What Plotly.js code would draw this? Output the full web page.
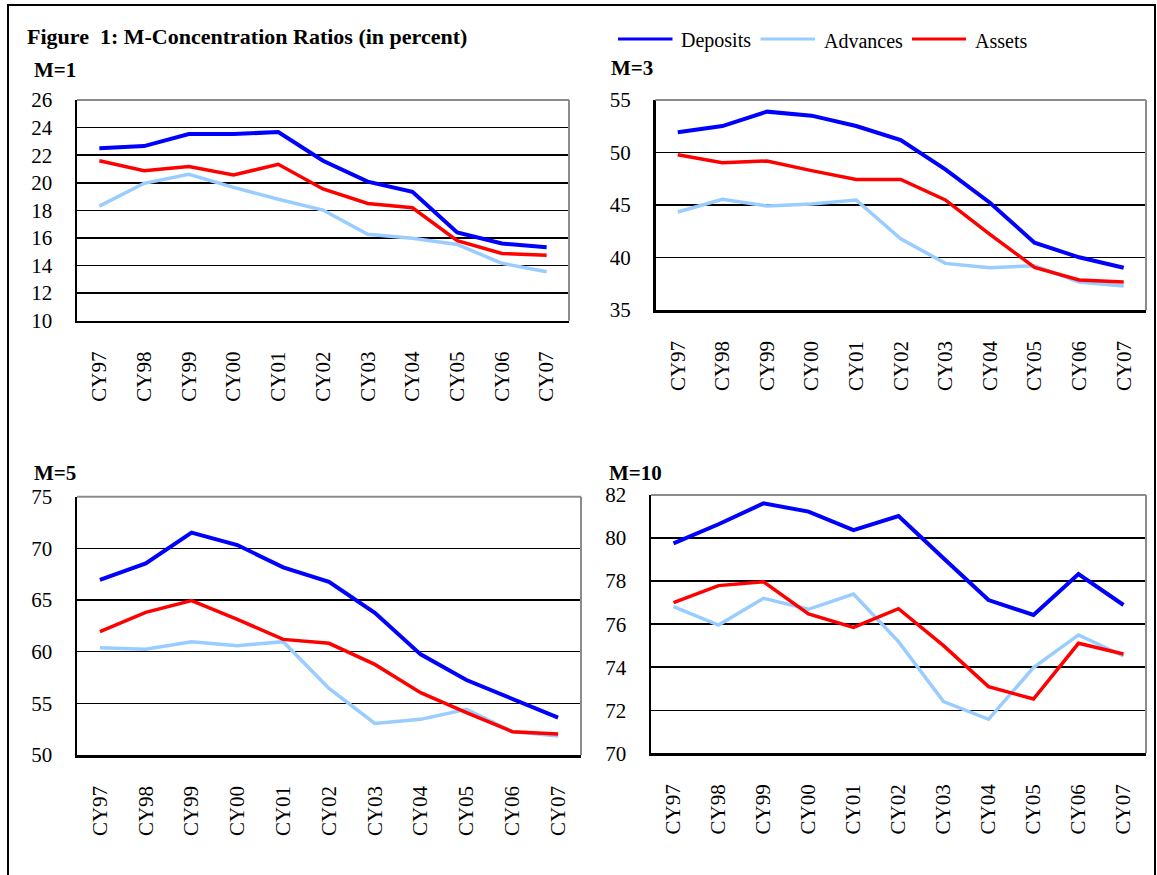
<!DOCTYPE html>
<html>
<head>
<meta charset="utf-8">
<script src="https://cdn.plot.ly/plotly-3.0.1.min.js"></script>
<style>html,body{margin:0;padding:0;background:#fff;}#chart{width:1157px;height:875px;}</style>
</head>
<body>
<div id="chart"></div>
<script>
// ---- data ----
const categories = ['CY97','CY98','CY99','CY00','CY01','CY02','CY03','CY04','CY05','CY06','CY07'];
const seriesNames = ['Deposits','Advances','Assets'];

const m1Deposits = [22.5, 22.66, 23.53, 23.53, 23.68, 21.6, 20.08, 19.35, 16.4, 15.6, 15.32];
const m1Advances = [18.31, 19.96, 20.61, 19.67, 18.8, 18.02, 16.26, 15.97, 15.53, 14.16, 13.55];
const m1Assets   = [21.6, 20.88, 21.17, 20.56, 21.34, 19.55, 18.5, 18.19, 15.8, 14.88, 14.74];

const m3Deposits = [51.92, 52.52, 53.89, 53.51, 52.52, 51.19, 48.4, 45.22, 41.41, 40.02, 39.03];
const m3Advances = [44.33, 45.54, 44.9, 45.1, 45.48, 41.79, 39.44, 39.03, 39.22, 37.67, 37.29];
const m3Assets   = [49.79, 49.03, 49.19, 48.27, 47.44, 47.44, 45.48, 42.21, 39.06, 37.86, 37.67];

const m5Deposits = [66.94, 68.55, 71.52, 70.32, 68.16, 66.77, 63.77, 59.74, 57.26, 55.39, 53.61];
const m5Advances = [60.39, 60.23, 60.97, 60.58, 60.97, 56.45, 53.06, 53.45, 54.42, 52.26, 51.84];
const m5Assets   = [61.94, 63.81, 64.94, 63.13, 61.19, 60.81, 58.77, 56.03, 54.1, 52.26, 52.03];

const m10Deposits = [79.75, 80.64, 81.61, 81.23, 80.37, 81.02, 79.06, 77.12, 76.43, 78.33, 76.89];
const m10Advances = [76.81, 75.96, 77.2, 76.69, 77.4, 75.19, 72.4, 71.58, 73.98, 75.5, 74.52];
const m10Assets   = [77.0, 77.79, 77.97, 76.47, 75.85, 76.72, 75.0, 73.1, 72.52, 75.11, 74.61];

const panelTitles = ['M=1','M=3','M=5','M=10'];
const yRanges = [[10,26],[35,55],[50,75],[70,82]];
const yDticks = [2,5,5,2];
const figureTitle = 'Figure  1: M-Concentration Ratios (in percent)';

// ---- styling / layout ----
const W = 1157, H = 875;
const FONT = 'Liberation Serif, Times New Roman, serif';
const colors = ['#0000FF', '#99CCFF', '#FF0000'];
const widths = [4, 3.5, 3.5];
const px = v => v / W;
const py = v => 1 - v / H;

const panelData = [
  [m1Deposits, m1Advances, m1Assets],
  [m3Deposits, m3Advances, m3Assets],
  [m5Deposits, m5Advances, m5Assets],
  [m10Deposits, m10Advances, m10Assets]
];
// pixel boxes [left, right, top, bottom]
const boxes = [
  [77, 569, 100, 320.7],
  [655.5, 1146, 100, 310],
  [77, 581, 496.7, 755],
  [651, 1146, 495, 753.3]
];
const titlePos = [[32, 70.5], [609, 67.5], [32, 473], [607, 473]];

const traces = [];
const layout = {
  width: W, height: H,
  margin: {l:0, r:0, t:0, b:0},
  paper_bgcolor: '#fff', plot_bgcolor: '#fff',
  showlegend: false,
  font: {family: FONT, color: '#000'},
  shapes: [], annotations: []
};

panelData.forEach((series, i) => {
  const n = i + 1;
  const xa = 'xaxis' + (n === 1 ? '' : n);
  const ya = 'yaxis' + (n === 1 ? '' : n);
  const xr = 'x' + (n === 1 ? '' : n);
  const yr = 'y' + (n === 1 ? '' : n);
  const b = boxes[i];
  series.forEach((vals, s) => {
    traces.push({
      type: 'scatter', mode: 'lines', x: categories, y: vals,
      name: seriesNames[s], xaxis: xr, yaxis: yr,
      line: {color: colors[s], width: widths[s]},
      hoverinfo: 'skip'
    });
  });
  layout[xa] = {
    domain: [px(b[0]), px(b[1])], anchor: yr, type: 'category',
    range: [-0.5, categories.length - 0.5],
    tickangle: -90, ticks: '', showgrid: false, zeroline: false,
    showline: true, linecolor: '#000', linewidth: 2.5,
    tickfont: {family: FONT, size: 21, color: '#000'},
    ticklabelstandoff: 20, fixedrange: true
  };
  layout[ya] = {
    domain: [py(b[3]), py(b[2])], anchor: xr,
    range: yRanges[i], dtick: yDticks[i], tick0: yRanges[i][0],
    ticks: '', showgrid: true, gridcolor: '#000', gridwidth: 1.5, zeroline: false,
    showline: true, linecolor: '#000', linewidth: 2.5,
    tickfont: {family: FONT, size: 21, color: '#000'},
    ticklabelstandoff: 18, fixedrange: true
  };
  // gray top and right border
  layout.shapes.push({type:'line', xref: xr + ' domain', yref: yr + ' domain', x0:0, x1:1, y0:1, y1:1, line:{color:'#8c8c8c', width:2}, layer:'above'});
  layout.shapes.push({type:'line', xref: xr + ' domain', yref: yr + ' domain', x0:1, x1:1, y0:0, y1:1, line:{color:'#8c8c8c', width:2}, layer:'above'});
  layout.annotations.push({
    xref:'paper', yref:'paper', x: px(titlePos[i][0]), y: py(titlePos[i][1]),
    xanchor:'left', yanchor:'middle', showarrow:false, text: '<b>' + panelTitles[i] + '</b>',
    font:{family: FONT, size: 21, color:'#000'}
  });
});

// main title
layout.annotations.push({
  xref:'paper', yref:'paper', x: px(25), y: py(37), xanchor:'left', yanchor:'middle',
  showarrow:false, text:'<b>' + figureTitle + '</b>', font:{family: FONT, size: 22, color:'#000'}
});

// legend (custom)
const legendLines = [[618, 672.5, 679], [760.5, 815, 822], [912, 966, 973]];
seriesNames.forEach((nm, s) => {
  const L = legendLines[s];
  layout.shapes.push({type:'line', xref:'paper', yref:'paper', x0:px(L[0]), x1:px(L[1]), y0:py(39), y1:py(39), line:{color: colors[s], width: 3}});
  layout.annotations.push({xref:'paper', yref:'paper', x:px(L[2]), y:py(41), xanchor:'left', yanchor:'middle', showarrow:false, text:nm, font:{family: FONT, size: 20, color:'#000'}});
});

// outer frame
layout.shapes.push({type:'rect', xref:'paper', yref:'paper', x0:px(8), x1:px(1155), y0:-0.02, y1:py(5), line:{color:'#000', width:2}, fillcolor:'rgba(0,0,0,0)', layer:'above'});

Plotly.newPlot('chart', traces, layout, {staticPlot: true, displayModeBar: false});
</script>
</body>
</html>
